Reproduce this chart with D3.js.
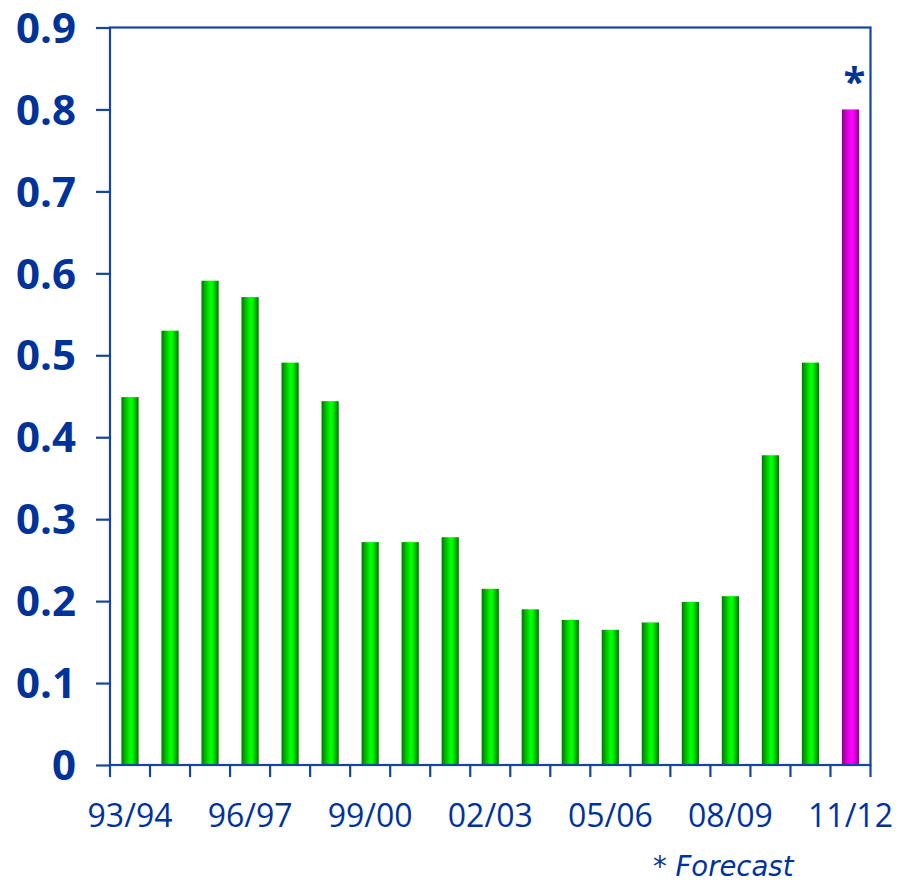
<!DOCTYPE html>
<html>
<head>
<meta charset="utf-8">
<script src="https://cdn.jsdelivr.net/npm/d3@7"></script>
<style>
  html, body { margin: 0; padding: 0; background: #fff; }
  svg { display: block; }
</style>
</head>
<body>
<svg id="chart" width="898" height="882"></svg>
<script>
const categories = ["93/94","94/95","95/96","96/97","97/98","98/99","99/00","00/01","01/02","02/03","03/04","04/05","05/06","06/07","07/08","08/09","09/10","10/11","11/12"];
const values = [0.449,0.530,0.591,0.571,0.491,0.444,0.272,0.272,0.278,0.215,0.190,0.177,0.165,0.174,0.199,0.206,0.378,0.491,0.800];
const forecast = [false,false,false,false,false,false,false,false,false,false,false,false,false,false,false,false,false,false,true];
const xTickLabels = ["93/94","96/97","99/00","02/03","05/06","08/09","11/12"];
const yTicks = [0,0.1,0.2,0.3,0.4,0.5,0.6,0.7,0.8,0.9];

(function () {
const axisColor = "#1444a4";
const textColor = "#003399";

const svg = d3.select("#chart");
const pLeft = 110, pRight = 870.5, pTop = 27.5, pBottom = 765;

const x = d3.scaleBand().domain(categories).range([pLeft, pRight]).padding(0);
const y = d3.scaleLinear().domain([0, 0.9]).range([pBottom, pTop]);

const defs = svg.append("defs");
function grad(id, dark, bright) {
  const g = defs.append("linearGradient").attr("id", id).attr("x1", "0%").attr("x2", "100%").attr("y1", "0%").attr("y2", "0%");
  g.append("stop").attr("offset", "0%").attr("stop-color", dark);
  g.append("stop").attr("offset", "50%").attr("stop-color", bright);
  g.append("stop").attr("offset", "62%").attr("stop-color", bright);
  g.append("stop").attr("offset", "100%").attr("stop-color", dark);
}
grad("gGreen", "#007800", "#00ff00");
grad("gMag", "#900090", "#ff00ff");

// bars
const barW = x.bandwidth() * 0.43;
svg.append("g").selectAll("rect").data(categories).join("rect")
  .attr("x", d => x(d) + (x.bandwidth() - barW) / 2)
  .attr("width", barW)
  .attr("y", (d, i) => y(values[i]))
  .attr("height", (d, i) => pBottom - y(values[i]))
  .attr("fill", (d, i) => forecast[i] ? "url(#gMag)" : "url(#gGreen)");

// frame
svg.append("rect")
  .attr("x", pLeft).attr("y", pTop)
  .attr("width", pRight - pLeft).attr("height", pBottom - pTop)
  .attr("fill", "none").attr("stroke", axisColor).attr("stroke-width", 2.2);

// y axis
const yAxis = d3.axisLeft(y).tickValues(yTicks).tickSize(14).tickPadding(20)
  .tickFormat(d => d === 0 ? "0" : d3.format(".1f")(d));
const yg = svg.append("g").attr("transform", `translate(${pLeft},0)`).call(yAxis);
yg.select(".domain").remove();
yg.selectAll(".tick line").attr("stroke", axisColor).attr("stroke-width", 2.2);
yg.selectAll(".tick text")
  .attr("fill", textColor)
  .attr("font-family", "'Open Sans', sans-serif")
  .attr("font-weight", "bold")
  .attr("font-size", "42px")
  .attr("dy", "0.35em");

// x tick marks at band boundaries
const boundaries = categories.map(c => x(c)).concat([pRight]);
svg.append("g").selectAll("line").data(boundaries).join("line")
  .attr("x1", d => d).attr("x2", d => d)
  .attr("y1", pBottom).attr("y2", pBottom + 12)
  .attr("stroke", axisColor).attr("stroke-width", 2.2);

// x labels
const xAxis = d3.axisBottom(x).tickValues(xTickLabels).tickSize(0).tickPadding(36);
const xg = svg.append("g").attr("transform", `translate(0,${pBottom})`).call(xAxis);
xg.select(".domain").remove();
xg.selectAll(".tick text")
  .attr("fill", textColor)
  .attr("font-family", "'Open Sans', sans-serif")
  .attr("font-size", "32px")
  .attr("dy", "0.8em");

// forecast asterisk
const lastIdx = forecast.lastIndexOf(true);
svg.append("text")
  .attr("x", x(categories[lastIdx]) + x.bandwidth() / 2 + 4)
  .attr("y", y(values[lastIdx]) - 13)
  .attr("text-anchor", "middle")
  .attr("fill", textColor)
  .attr("font-family", "'Open Sans', sans-serif")
  .attr("font-weight", "bold")
  .attr("font-size", "40px")
  .text("*");

// footnote
svg.append("text")
  .attr("x", 653).attr("y", 876)
  .attr("fill", textColor)
  .attr("font-family", "'DejaVu Sans', sans-serif")
  .attr("font-style", "italic")
  .attr("font-size", "27.5px")
  .text("* Forecast");
})();
</script>
</body>
</html>
